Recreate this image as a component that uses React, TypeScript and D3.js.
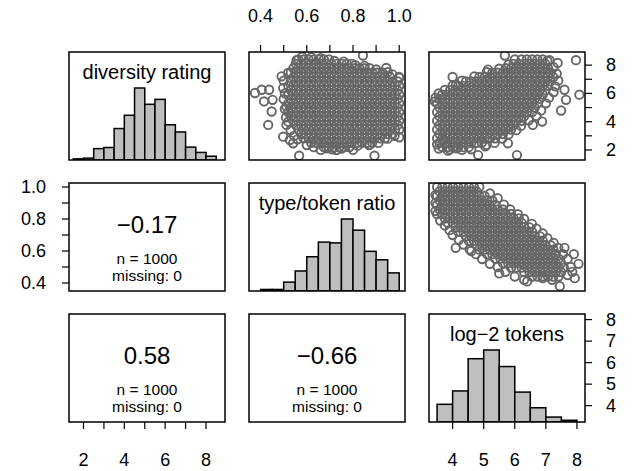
import React from 'react';
import * as d3 from 'd3';

// ---------- data ----------
const varNames = ['diversity rating', 'type/token ratio', 'log\u22122 tokens'];
const corLabels = ['\u22120.17', '0.58', '\u22120.66'];
const nLabel = 'n = 1000';
const missingLabel = 'missing: 0';

const diversityBreaks = [1.5, 2, 2.5, 3, 3.5, 4, 4.5, 5, 5.5, 6, 6.5, 7, 7.5, 8, 8.5];
const diversityCounts = [3, 5, 30, 33, 83, 118, 190, 147, 160, 93, 74, 34, 20, 10];
const ttrBreaks = [0.4, 0.45, 0.5, 0.55, 0.6, 0.65, 0.7, 0.75, 0.8, 0.85, 0.9, 0.95, 1.0];
const ttrCounts = [4, 4, 23, 52, 89, 127, 125, 187, 158, 103, 81, 47];
const logBreaks = [3.5, 4, 4.5, 5, 5.5, 6, 6.5, 7, 7.5, 8];
const logCounts = [61, 107, 218, 248, 191, 103, 49, 17, 6];

const diversityTicks = [2, 3, 4, 5, 6, 7, 8];
const diversityTickLabels = [2, 4, 6, 8];
const ttrTicks = [0.4, 0.5, 0.6, 0.7, 0.8, 0.9, 1.0];
const ttrTickLabels = [0.4, 0.6, 0.8, 1.0];
const logTicks = [4, 5, 6, 7, 8];
const logTickLabels = [4, 5, 6, 7, 8];

const diversityDomain = [1.29, 8.93];
const ttrDomain = [0.35, 1.025];
const logDomain = [3.24, 8.26];

// scatter: diversity (y) vs type/token ratio (x); rows of [diversity, ttr values]
const ttrDivRows: [number, number[]][] = [
  [8.4, [0.564, 0.586, 0.608, 0.63, 0.652, 0.674, 0.696]],
  [8.09, [0.553, 0.575, 0.597, 0.619, 0.641, 0.663, 0.685, 0.707, 0.729, 0.751, 0.773, 0.795]],
  [7.78, [0.542, 0.564, 0.586, 0.608, 0.63, 0.652, 0.674, 0.696, 0.718, 0.74, 0.762, 0.784, 0.806, 0.828, 0.85, 0.872]],
  [7.47, [0.531, 0.553, 0.575, 0.597, 0.619, 0.641, 0.663, 0.685, 0.707, 0.729, 0.751, 0.773, 0.795, 0.817, 0.839, 0.861, 0.883, 0.905, 0.927]],
  [7.16, [0.542, 0.564, 0.586, 0.608, 0.63, 0.652, 0.674, 0.696, 0.718, 0.74, 0.762, 0.784, 0.806, 0.828, 0.85, 0.872, 0.894, 0.916, 0.938, 0.96, 1.0]],
  [6.85, [0.531, 0.553, 0.575, 0.597, 0.619, 0.641, 0.663, 0.685, 0.707, 0.729, 0.751, 0.773, 0.795, 0.817, 0.839, 0.861, 0.883, 0.905, 0.927, 0.949, 0.971, 0.993]],
  [6.54, [0.52, 0.542, 0.564, 0.586, 0.608, 0.63, 0.652, 0.674, 0.696, 0.718, 0.74, 0.762, 0.784, 0.806, 0.828, 0.85, 0.872, 0.894, 0.916, 0.938, 0.96, 0.982, 1.0]],
  [6.23, [0.531, 0.553, 0.575, 0.597, 0.619, 0.641, 0.663, 0.685, 0.707, 0.729, 0.751, 0.773, 0.795, 0.817, 0.839, 0.861, 0.883, 0.905, 0.927, 0.949, 0.971, 0.993]],
  [5.92, [0.52, 0.542, 0.564, 0.586, 0.608, 0.63, 0.652, 0.674, 0.696, 0.718, 0.74, 0.762, 0.784, 0.806, 0.828, 0.85, 0.872, 0.894, 0.916, 0.938, 0.96, 0.982, 1.0]],
  [5.61, [0.531, 0.553, 0.575, 0.597, 0.619, 0.641, 0.663, 0.685, 0.707, 0.729, 0.751, 0.773, 0.795, 0.817, 0.839, 0.861, 0.883, 0.905, 0.927, 0.949, 0.971, 0.993]],
  [5.3, [0.52, 0.542, 0.564, 0.586, 0.608, 0.63, 0.652, 0.674, 0.696, 0.718, 0.74, 0.762, 0.784, 0.806, 0.828, 0.85, 0.872, 0.894, 0.916, 0.938, 0.96, 0.982, 1.0]],
  [4.99, [0.531, 0.553, 0.575, 0.597, 0.619, 0.641, 0.663, 0.685, 0.707, 0.729, 0.751, 0.773, 0.795, 0.817, 0.839, 0.861, 0.883, 0.905, 0.927, 0.949, 0.971, 0.993]],
  [4.68, [0.52, 0.542, 0.564, 0.586, 0.608, 0.63, 0.652, 0.674, 0.696, 0.718, 0.74, 0.762, 0.784, 0.806, 0.828, 0.85, 0.872, 0.894, 0.916, 0.938, 0.96, 0.982, 1.0]],
  [4.37, [0.531, 0.553, 0.575, 0.597, 0.619, 0.641, 0.663, 0.685, 0.707, 0.729, 0.751, 0.773, 0.795, 0.817, 0.839, 0.861, 0.883, 0.905, 0.927, 0.949, 0.971, 0.993]],
  [4.06, [0.542, 0.564, 0.586, 0.608, 0.63, 0.652, 0.674, 0.696, 0.718, 0.74, 0.762, 0.784, 0.806, 0.828, 0.85, 0.872, 0.894, 0.916, 0.938, 0.96, 0.982, 1.0]],
  [3.75, [0.553, 0.575, 0.597, 0.619, 0.641, 0.663, 0.685, 0.707, 0.729, 0.751, 0.773, 0.795, 0.817, 0.839, 0.861, 0.883, 0.905, 0.927, 0.949, 0.971, 0.993]],
  [3.44, [0.564, 0.586, 0.608, 0.63, 0.652, 0.674, 0.696, 0.718, 0.74, 0.762, 0.784, 0.806, 0.828, 0.85, 0.872, 0.894, 0.916, 0.938, 0.96, 0.982, 1.0]],
  [3.13, [0.575, 0.597, 0.619, 0.641, 0.663, 0.685, 0.707, 0.729, 0.751, 0.773, 0.795, 0.817, 0.839, 0.861, 0.883, 0.905, 0.927, 0.949, 0.971]],
  [2.82, [0.586, 0.608, 0.63, 0.652, 0.674, 0.696, 0.718, 0.74, 0.762, 0.784, 0.806, 0.828, 0.85, 0.872, 0.894, 0.916, 0.938]],
  [2.51, [0.619, 0.641, 0.663, 0.685, 0.707, 0.729, 0.751, 0.773, 0.795, 0.817, 0.839, 0.861, 0.883]],
  [2.2, [0.674, 0.696, 0.718, 0.74, 0.762, 0.784]],
];
const ttrDivOutliers: [number, number][] = [
  [0.376, 6.03], [0.405, 6.26], [0.437, 6.26], [0.415, 5.43], [0.452, 5.55], [0.448, 4.72],
  [0.433, 3.77], [0.491, 7.21], [0.519, 7.45], [0.498, 6.38], [0.512, 5.07], [0.512, 3.77],
  [0.498, 2.94], [0.527, 2.7], [0.541, 2.47], [0.556, 8.35], [0.843, 8.68], [0.642, 2.7],
  [0.685, 2.11], [0.728, 1.99], [0.785, 2.23], [0.944, 7.8], [1.0, 7.1], [0.567, 1.59], [0.893, 1.59],
  [0.58, 8.6], [0.62, 8.55], [0.66, 8.5], [0.72, 8.3], [0.76, 8.25], [0.81, 8.0], [0.85, 7.95],
  [0.9, 7.7], [0.95, 7.5], [0.97, 7.35], [0.5, 6.9], [0.505, 6.0], [0.5, 5.6], [0.505, 4.9],
  [0.51, 4.3], [0.52, 4.0], [0.53, 3.4], [0.545, 3.0], [0.56, 2.75], [0.6, 2.35], [0.63, 2.2],
  [0.66, 2.0], [0.71, 2.05], [0.75, 2.1], [0.8, 2.0], [0.82, 2.3], [0.87, 2.35], [0.91, 2.5],
  [0.95, 2.8], [0.98, 3.0], [1.0, 2.9],
];

// scatter: diversity (y) vs log-2 tokens (x); rows of [diversity, log tokens values]
const logDivRows: [number, number[]][] = [
  [8.4, [6.22, 6.39, 6.56, 6.73, 6.9]],
  [8.09, [5.96, 6.13, 6.3, 6.47, 6.64, 6.81, 6.98]],
  [7.78, [5.71, 5.88, 6.05, 6.22, 6.39, 6.56, 6.73, 6.9, 7.07]],
  [7.47, [5.28, 5.45, 5.62, 5.79, 5.96, 6.13, 6.3, 6.47, 6.64, 6.81, 6.98, 7.15]],
  [7.16, [4.86, 5.03, 5.2, 5.37, 5.54, 5.71, 5.88, 6.05, 6.22, 6.39, 6.56, 6.73, 6.9, 7.07, 7.24]],
  [6.85, [4.43, 4.6, 4.77, 4.94, 5.11, 5.28, 5.45, 5.62, 5.79, 5.96, 6.13, 6.3, 6.47, 6.64, 6.81, 6.98, 7.15]],
  [6.54, [4.18, 4.35, 4.52, 4.69, 4.86, 5.03, 5.2, 5.37, 5.54, 5.71, 5.88, 6.05, 6.22, 6.39, 6.56, 6.73, 6.9, 7.07]],
  [6.23, [3.92, 4.09, 4.26, 4.43, 4.6, 4.77, 4.94, 5.11, 5.28, 5.45, 5.62, 5.79, 5.96, 6.13, 6.3, 6.47, 6.64, 6.81, 6.98]],
  [5.92, [3.67, 3.84, 4.01, 4.18, 4.35, 4.52, 4.69, 4.86, 5.03, 5.2, 5.37, 5.54, 5.71, 5.88, 6.05, 6.22, 6.39, 6.56, 6.73, 6.9]],
  [5.61, [3.58, 3.75, 3.92, 4.09, 4.26, 4.43, 4.6, 4.77, 4.94, 5.11, 5.28, 5.45, 5.62, 5.79, 5.96, 6.13, 6.3, 6.47, 6.64, 6.81]],
  [5.3, [3.5, 3.67, 3.84, 4.01, 4.18, 4.35, 4.52, 4.69, 4.86, 5.03, 5.2, 5.37, 5.54, 5.71, 5.88, 6.05, 6.22, 6.39, 6.56, 6.73]],
  [4.99, [3.58, 3.75, 3.92, 4.09, 4.26, 4.43, 4.6, 4.77, 4.94, 5.11, 5.28, 5.45, 5.62, 5.79, 5.96, 6.13, 6.3, 6.47, 6.64]],
  [4.68, [3.5, 3.67, 3.84, 4.01, 4.18, 4.35, 4.52, 4.69, 4.86, 5.03, 5.2, 5.37, 5.54, 5.71, 5.88, 6.05, 6.22, 6.39, 6.56]],
  [4.37, [3.58, 3.75, 3.92, 4.09, 4.26, 4.43, 4.6, 4.77, 4.94, 5.11, 5.28, 5.45, 5.62, 5.79, 5.96, 6.13, 6.3]],
  [4.06, [3.5, 3.67, 3.84, 4.01, 4.18, 4.35, 4.52, 4.69, 4.86, 5.03, 5.2, 5.37, 5.54, 5.71, 5.88, 6.05, 6.22]],
  [3.75, [3.58, 3.75, 3.92, 4.09, 4.26, 4.43, 4.6, 4.77, 4.94, 5.11, 5.28, 5.45, 5.62, 5.79, 5.96]],
  [3.44, [3.5, 3.67, 3.84, 4.01, 4.18, 4.35, 4.52, 4.69, 4.86, 5.03, 5.2, 5.37, 5.54, 5.71, 5.88]],
  [3.13, [3.58, 3.75, 3.92, 4.09, 4.26, 4.43, 4.6, 4.77, 4.94, 5.11, 5.28, 5.45, 5.62]],
  [2.82, [3.5, 3.67, 3.84, 4.01, 4.18, 4.35, 4.52, 4.69, 4.86, 5.03, 5.2, 5.37]],
  [2.51, [3.58, 3.75, 3.92, 4.09, 4.26, 4.43, 4.6, 4.77, 4.94]],
  [2.2, [3.67, 3.84, 4.01, 4.18, 4.35, 4.52]],
];
const logDivOutliers: [number, number][] = [
  [3.43, 5.43], [4.0, 7.17], [4.11, 6.62], [5.14, 7.69], [5.68, 8.68], [7.97, 8.35], [8.08, 5.91],
  [7.49, 4.79], [7.65, 5.55], [7.6, 6.26], [7.12, 8.35], [7.38, 8.16], [6.88, 4.01], [6.58, 3.77],
  [4.82, 1.64], [6.07, 1.64], [5.78, 2.47], [5.09, 2.35], [3.91, 2.04], [4.13, 2.11], [3.7, 2.7],
  [6.0, 8.4], [5.8, 8.05], [5.5, 7.75], [5.1, 7.5], [4.7, 7.2], [4.3, 6.9], [4.0, 6.55],
  [3.75, 6.25], [3.55, 6.0], [3.45, 5.7], [7.05, 8.3], [7.25, 7.85], [7.35, 7.4], [7.4, 6.9],
  [7.3, 6.5], [7.25, 6.1], [7.1, 5.7], [7.0, 5.3], [6.85, 4.8], [6.7, 4.4], [6.45, 4.1],
  [6.2, 3.7], [6.05, 3.4], [5.8, 3.1], [5.6, 2.8], [5.35, 2.5], [5.05, 2.25], [3.5, 2.4],
  [3.55, 2.1], [3.85, 1.95], [4.3, 2.0], [4.6, 2.05],
];

// scatter: type/token ratio (y) vs log-2 tokens (x); rows of [ttr, log tokens values]
const logTtrRows: [number, number[]][] = [
  [1.0, [3.5, 3.67, 3.84, 4.01, 4.18, 4.35, 4.52, 4.69, 4.86]],
  [0.972, [3.58, 3.75, 3.92, 4.09, 4.26, 4.43, 4.6, 4.77]],
  [0.944, [3.5, 3.67, 3.84, 4.01, 4.18, 4.35, 4.52, 4.69, 4.86, 5.03]],
  [0.916, [3.58, 3.75, 3.92, 4.09, 4.26, 4.43, 4.6, 4.77, 4.94, 5.11, 5.28]],
  [0.888, [3.5, 3.67, 3.84, 4.01, 4.18, 4.35, 4.52, 4.69, 4.86, 5.03, 5.2, 5.37]],
  [0.86, [3.58, 3.75, 3.92, 4.09, 4.26, 4.43, 4.6, 4.77, 4.94, 5.11, 5.28, 5.45, 5.62]],
  [0.832, [3.67, 3.84, 4.01, 4.18, 4.35, 4.52, 4.69, 4.86, 5.03, 5.2, 5.37, 5.54, 5.71, 5.88]],
  [0.804, [3.75, 3.92, 4.09, 4.26, 4.43, 4.6, 4.77, 4.94, 5.11, 5.28, 5.45, 5.62, 5.79, 5.96, 6.13]],
  [0.776, [3.84, 4.01, 4.18, 4.35, 4.52, 4.69, 4.86, 5.03, 5.2, 5.37, 5.54, 5.71, 5.88, 6.05, 6.22]],
  [0.748, [4.09, 4.26, 4.43, 4.6, 4.77, 4.94, 5.11, 5.28, 5.45, 5.62, 5.79, 5.96, 6.13, 6.3, 6.47]],
  [0.72, [4.18, 4.35, 4.52, 4.69, 4.86, 5.03, 5.2, 5.37, 5.54, 5.71, 5.88, 6.05, 6.22, 6.39, 6.56]],
  [0.692, [4.43, 4.6, 4.77, 4.94, 5.11, 5.28, 5.45, 5.62, 5.79, 5.96, 6.13, 6.3, 6.47, 6.64, 6.81]],
  [0.664, [4.52, 4.69, 4.86, 5.03, 5.2, 5.37, 5.54, 5.71, 5.88, 6.05, 6.22, 6.39, 6.56, 6.73, 6.9]],
  [0.636, [4.77, 4.94, 5.11, 5.28, 5.45, 5.62, 5.79, 5.96, 6.13, 6.3, 6.47, 6.64, 6.81, 6.98, 7.15]],
  [0.608, [4.86, 5.03, 5.2, 5.37, 5.54, 5.71, 5.88, 6.05, 6.22, 6.39, 6.56, 6.73, 6.9, 7.07, 7.24]],
  [0.58, [5.11, 5.28, 5.45, 5.62, 5.79, 5.96, 6.13, 6.3, 6.47, 6.64, 6.81, 6.98, 7.15, 7.32]],
  [0.552, [5.37, 5.54, 5.71, 5.88, 6.05, 6.22, 6.39, 6.56, 6.73, 6.9, 7.07, 7.24, 7.41]],
  [0.524, [5.62, 5.79, 5.96, 6.13, 6.3, 6.47, 6.64, 6.81, 6.98, 7.15, 7.32, 7.49]],
  [0.496, [5.88, 6.05, 6.22, 6.39, 6.56, 6.73, 6.9, 7.07, 7.24, 7.41, 7.58]],
  [0.468, [6.3, 6.47, 6.64, 6.81, 6.98, 7.15, 7.32, 7.49]],
  [0.44, [6.56, 6.73, 6.9, 7.07, 7.24, 7.41]],
];
const logTtrOutliers: [number, number][] = [
  [7.93, 0.43], [8.05, 0.52], [7.45, 0.38], [7.2, 0.42], [6.3, 0.42], [7.7, 0.45], [6.9, 0.43],
  [7.9, 0.58], [3.45, 0.85], [3.45, 0.95], [7.6, 0.62], [5.5, 0.46], [4.1, 0.62], [4.6, 0.6],
  [5.2, 0.96], [5.45, 0.93], [5.65, 0.89], [5.85, 0.86], [6.1, 0.83], [6.3, 0.8], [6.55, 0.77],
  [6.7, 0.74], [6.9, 0.71], [7.05, 0.68], [7.25, 0.65], [7.4, 0.62], [7.55, 0.58], [7.7, 0.55],
  [7.8, 0.5], [7.85, 0.47], [3.45, 0.9], [3.5, 0.83], [3.6, 0.79], [3.75, 0.76], [3.9, 0.73],
  [4.0, 0.7], [4.2, 0.67], [4.35, 0.64], [4.55, 0.61], [4.75, 0.58], [4.95, 0.55], [5.2, 0.52],
  [5.45, 0.5], [5.7, 0.47], [6.0, 0.44], [6.4, 0.41],
];

// ---------- layout ----------
const W = 635;
const H = 471;
const colX = [69, 249, 429];
const rowY = [52, 183, 314];
const PW = 156;
const PH = 108;
const TICK = 7;
const FONT = '"Liberation Sans", Arial, Helvetica, sans-serif';
const PT_COLOR = '#666666';

function fmt(v: number) {
  return Number.isInteger(v) && v < 2 && v > 0 ? v.toFixed(1) : String(v);
}

export default function App() {
  const divX = d3.scaleLinear().domain(diversityDomain).range([0, PW]);
  const divY = d3.scaleLinear().domain(diversityDomain).range([PH, 0]);
  const ttrX = d3.scaleLinear().domain(ttrDomain).range([0, PW]);
  const ttrY = d3.scaleLinear().domain(ttrDomain).range([PH, 0]);
  const logX = d3.scaleLinear().domain(logDomain).range([0, PW]);
  const logY = d3.scaleLinear().domain(logDomain).range([PH, 0]);

  const hist = (breaks: number[], counts: number[], xs: d3.ScaleLinear<number, number>) => {
    const mx = d3.max(counts) as number;
    const hy = d3.scaleLinear().domain([0, mx * 1.5]).range([PH, 0]);
    return counts.map((c, i) => (
      <rect
        key={i}
        x={xs(breaks[i])}
        y={hy(c)}
        width={xs(breaks[i + 1]) - xs(breaks[i])}
        height={PH - hy(c)}
        fill="#bebebe"
        stroke="#000"
        strokeWidth={1.5}
      />
    ));
  };

  const scatter = (
    rows: [number, number[]][],
    outliers: [number, number][],
    xs: d3.ScaleLinear<number, number>,
    ys: d3.ScaleLinear<number, number>
  ) => {
    const pts: [number, number][] = [];
    rows.forEach(([yv, xvals]) => xvals.forEach((xv) => pts.push([xv, yv])));
    outliers.forEach((p) => pts.push(p));
    return pts.map((p, i) => (
      <circle key={i} cx={xs(p[0])} cy={ys(p[1])} r={4.2} fill="none" stroke={PT_COLOR} strokeWidth={1.9} />
    ));
  };

  const panel = (ci: number, ri: number, content: React.ReactNode, key: string) => (
    <g key={key} transform={`translate(${colX[ci]},${rowY[ri]})`}>
      <g clipPath={`url(#clip)`}>{content}</g>
      <rect x={0} y={0} width={PW} height={PH} fill="none" stroke="#000" strokeWidth={1.5} />
    </g>
  );

  const corPanel = (text: string) => (
    <g fontFamily={FONT} textAnchor="middle" fill="#000">
      <text x={PW / 2} y={41} fontSize={24} dominantBaseline="central">{text}</text>
      <text x={PW / 2} y={75} fontSize={15.5} dominantBaseline="central">{nLabel}</text>
      <text x={PW / 2} y={92} fontSize={15.5} dominantBaseline="central">{missingLabel}</text>
    </g>
  );

  const label = (text: string) => (
    <text x={PW / 2} y={20} fontFamily={FONT} fontSize={20} textAnchor="middle" dominantBaseline="central">{text}</text>
  );

  const axisTop = (ci: number, ri: number, xs: d3.ScaleLinear<number, number>, ticks: number[], labels: number[]) => (
    <g transform={`translate(${colX[ci]},${rowY[ri]})`}>
      {ticks.map((t, i) => (
        <line key={i} x1={xs(t)} x2={xs(t)} y1={0} y2={-TICK} stroke="#000" strokeWidth={1.2} />
      ))}
      {labels.map((t, i) => (
        <text key={'l' + i} x={xs(t)} y={-36} fontFamily={FONT} fontSize={18} textAnchor="middle" dominantBaseline="central">{fmt(t)}</text>
      ))}
    </g>
  );
  const axisBottom = (ci: number, ri: number, xs: d3.ScaleLinear<number, number>, ticks: number[], labels: number[]) => (
    <g transform={`translate(${colX[ci]},${rowY[ri] + PH})`}>
      {ticks.map((t, i) => (
        <line key={i} x1={xs(t)} x2={xs(t)} y1={0} y2={TICK} stroke="#000" strokeWidth={1.2} />
      ))}
      {labels.map((t, i) => (
        <text key={'l' + i} x={xs(t)} y={38} fontFamily={FONT} fontSize={18} textAnchor="middle" dominantBaseline="central">{fmt(t)}</text>
      ))}
    </g>
  );
  const axisLeft = (ci: number, ri: number, ys: d3.ScaleLinear<number, number>, ticks: number[], labels: number[]) => (
    <g transform={`translate(${colX[ci]},${rowY[ri]})`}>
      {ticks.map((t, i) => (
        <line key={i} x1={0} x2={-TICK} y1={ys(t)} y2={ys(t)} stroke="#000" strokeWidth={1.2} />
      ))}
      {labels.map((t, i) => (
        <text key={'l' + i} x={-23} y={ys(t)} fontFamily={FONT} fontSize={18} textAnchor="end" dominantBaseline="central">{fmt(t)}</text>
      ))}
    </g>
  );
  const axisRight = (ci: number, ri: number, ys: d3.ScaleLinear<number, number>, ticks: number[], labels: number[]) => (
    <g transform={`translate(${colX[ci] + PW},${rowY[ri]})`}>
      {ticks.map((t, i) => (
        <line key={i} x1={0} x2={TICK} y1={ys(t)} y2={ys(t)} stroke="#000" strokeWidth={1.2} />
      ))}
      {labels.map((t, i) => (
        <text key={'l' + i} x={21} y={ys(t)} fontFamily={FONT} fontSize={18} textAnchor="start" dominantBaseline="central">{fmt(t)}</text>
      ))}
    </g>
  );

  return (
    <svg width={W} height={H} style={{ position: 'absolute', left: 0, top: 0, background: '#fff' }}>
      <defs>
        <clipPath id="clip">
          <rect x={0} y={0} width={PW} height={PH} />
        </clipPath>
      </defs>
      <rect x={0} y={0} width={W} height={H} fill="#fff" />
      {panel(0, 0, <>{hist(diversityBreaks, diversityCounts, divX)}{label(varNames[0])}</>, 'p00')}
      {panel(1, 0, scatter(ttrDivRows, ttrDivOutliers, ttrX, divY), 'p01')}
      {panel(2, 0, scatter(logDivRows, logDivOutliers, logX, divY), 'p02')}
      {panel(0, 1, corPanel(corLabels[0]), 'p10')}
      {panel(1, 1, <>{hist(ttrBreaks, ttrCounts, ttrX)}{label(varNames[1])}</>, 'p11')}
      {panel(2, 1, scatter(logTtrRows, logTtrOutliers, logX, ttrY), 'p12')}
      {panel(0, 2, corPanel(corLabels[1]), 'p20')}
      {panel(1, 2, corPanel(corLabels[2]), 'p21')}
      {panel(2, 2, <>{hist(logBreaks, logCounts, logX)}{label(varNames[2])}</>, 'p22')}
      {axisTop(1, 0, ttrX, ttrTicks, ttrTickLabels)}
      {axisBottom(0, 2, divX, diversityTicks, diversityTickLabels)}
      {axisBottom(2, 2, logX, logTicks, logTickLabels)}
      {axisLeft(0, 1, ttrY, ttrTicks, ttrTickLabels)}
      {axisRight(2, 0, divY, diversityTicks, diversityTickLabels)}
      {axisRight(2, 2, logY, logTicks, logTickLabels)}
    </svg>
  );
}
